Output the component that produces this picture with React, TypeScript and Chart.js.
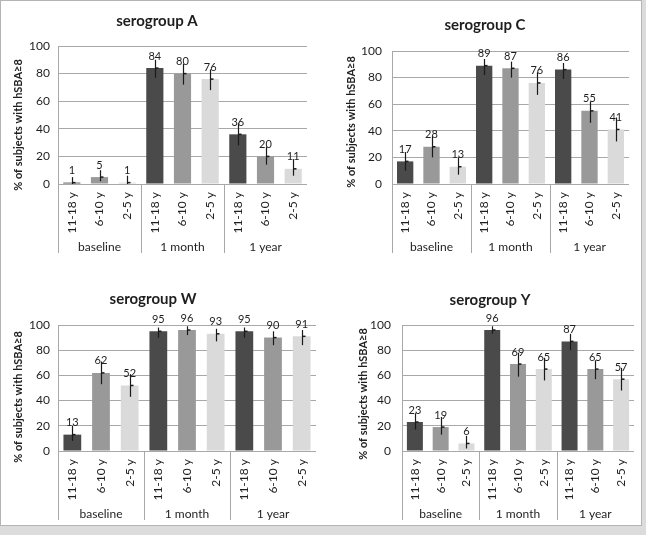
import React, { useEffect, useRef } from "react";
import { Chart, registerables } from "chart.js";

Chart.register(...registerables);

// ---------- data ----------
const ageGroups = ["11-18 y", "6-10 y", "2-5 y"];
const timepoints = ["baseline", "1 month", "1 year"];
const yTicks = [0, 20, 40, 60, 80, 100];
const yAxisTitle = "% of subjects with hSBA\u22658";

const titleA = "serogroup A";
const valuesA = [1, 5, 1, 84, 80, 76, 36, 20, 11];
const lowA = [0, 2, 0, 77, 72, 68, 28, 14, 6];
const highA = [5, 10, 6, 90, 87, 83, 44, 27, 18];

const titleC = "serogroup C";
const valuesC = [17, 28, 13, 89, 87, 76, 86, 55, 41];
const lowC = [10, 20, 7, 82, 80, 67, 79, 46, 32];
const highC = [24, 36, 20, 94, 92, 84, 91, 62, 50];

const titleW = "serogroup W";
const valuesW = [13, 62, 52, 95, 96, 93, 95, 90, 91];
const lowW = [8, 53, 43, 90, 92, 87, 90, 84, 84];
const highW = [20, 71, 61, 98, 99, 97, 98, 95, 96];

const titleY = "serogroup Y";
const valuesY = [23, 19, 6, 96, 69, 65, 87, 65, 57];
const lowY = [17, 13, 2, 93, 59, 56, 80, 57, 48];
const highY = [30, 27, 12, 99, 78, 74, 93, 72, 66];

// ---------- styling ----------
const FONT = "Lato, 'Open Sans', 'DejaVu Sans', sans-serif";
const TEXT = "#1e1e1e";
const GRID = "#a8a8a8";
const barColors = ["#4a4a4a", "#999999", "#dadada"];

const PW = 323;
const PH = 268;

type Spec = {
  title: string;
  values: number[];
  low: number[];
  high: number[];
  px: number;
  py: number;
  left: number;
  right: number;
  top: number;
  bottom: number;
  titleX: number;
  titleY: number;
  yTitleX: number;
  yTitleY: number;
  tickPad: number;
};

const specs: Spec[] = [
  { title: titleA, values: valuesA, low: lowA, high: highA, px: 0, py: 0, left: 58, right: 307, top: 46, bottom: 184, titleX: 157, titleY: 21, yTitleX: 18, yTitleY: 125, tickPad: 8 },
  { title: titleC, values: valuesC, low: lowC, high: highC, px: 323, py: 0, left: 392, right: 629, top: 51, bottom: 184, titleX: 485, titleY: 25, yTitleX: 351, yTitleY: 122, tickPad: 10 },
  { title: titleW, values: valuesW, low: lowW, high: highW, px: 0, py: 268, left: 58, right: 316, top: 325, bottom: 451, titleX: 153, titleY: 299, yTitleX: 18, yTitleY: 397, tickPad: 8 },
  { title: titleY, values: valuesY, low: lowY, high: highY, px: 323, py: 268, left: 402, right: 634, top: 325, bottom: 451, titleX: 490, titleY: 300, yTitleX: 363, yTitleY: 394, tickPad: 11 },
];

const labels = timepoints.flatMap(() => ageGroups);

function makeDecor(spec: Spec) {
  return {
    id: "decor",
    afterDatasetsDraw(chart: any) {
      const ctx = chart.ctx;
      const meta = chart.getDatasetMeta(0);
      const y = chart.scales.y;
      ctx.save();
      meta.data.forEach((bar: any, i: number) => {
        const cx = Math.round(bar.x) + 0.5;
        const yl = y.getPixelForValue(spec.low[i]);
        const yh = y.getPixelForValue(spec.high[i]);
        const yv = y.getPixelForValue(spec.values[i]);
        ctx.strokeStyle = "#1a1a1a";
        ctx.lineWidth = 1.2;
        ctx.beginPath();
        ctx.moveTo(cx, yl);
        ctx.lineTo(cx, yh);
        ctx.stroke();
        ctx.lineWidth = 1.5;
        ctx.beginPath();
        ctx.moveTo(cx, yv);
        ctx.lineTo(cx + 3, yv);
        ctx.stroke();
        // value label
        ctx.fillStyle = TEXT;
        ctx.font = `11px ${FONT}`;
        ctx.textAlign = "center";
        ctx.textBaseline = "middle";
        ctx.fillText(String(spec.values[i]), bar.x, yv - 12);
      });
      ctx.restore();
    },
    afterDraw(chart: any) {
      const ctx = chart.ctx;
      const x = chart.scales.x;
      const area = chart.chartArea;
      const ox = spec.px;
      const oy = spec.py;
      ctx.save();
      // category labels (rotated)
      ctx.fillStyle = TEXT;
      ctx.font = `12px ${FONT}`;
      labels.forEach((lab, i) => {
        const cx = x.getPixelForValue(i);
        ctx.save();
        ctx.translate(cx, area.bottom + 8);
        ctx.rotate(-Math.PI / 2);
        ctx.textAlign = "right";
        ctx.textBaseline = "middle";
        ctx.fillText(lab, 0, 0);
        ctx.restore();
      });
      // separators
      ctx.strokeStyle = GRID;
      ctx.lineWidth = 1;
      const n = labels.length;
      const step = (area.right - area.left) / n;
      for (let g = 0; g < timepoints.length; g++) {
        const xs = Math.round(area.left + g * 3 * step) + 0.5;
        ctx.beginPath();
        ctx.moveTo(xs, area.bottom);
        ctx.lineTo(xs, area.bottom + 69);
        ctx.stroke();
      }
      // group labels
      ctx.fillStyle = TEXT;
      ctx.font = `12px ${FONT}`;
      ctx.textAlign = "center";
      ctx.textBaseline = "middle";
      timepoints.forEach((t, g) => {
        const cx = area.left + (g * 3 + 1.5) * step;
        ctx.fillText(t, cx, area.bottom + 63);
      });
      // title
      ctx.font = `bold 15px ${FONT}`;
      ctx.fillText(spec.title, spec.titleX - ox, spec.titleY - oy);
      // y title
      ctx.save();
      ctx.translate(spec.yTitleX - ox, spec.yTitleY - oy);
      ctx.rotate(-Math.PI / 2);
      ctx.font = `bold 11px ${FONT}`;
      ctx.fillText(yAxisTitle, 0, 0);
      ctx.restore();
      ctx.restore();
    },
  };
}

function Panel({ spec }: { spec: Spec }) {
  const ref = useRef<HTMLCanvasElement | null>(null);
  useEffect(() => {
    const canvas = ref.current;
    if (!canvas) return;
    const chart = new Chart(canvas, {
      type: "bar",
      data: {
        labels,
        datasets: [
          {
            data: spec.values,
            backgroundColor: labels.map((_, i) => barColors[i % 3]),
            borderWidth: 0,
            barPercentage: 0.62,
            categoryPercentage: 1,
          },
        ],
      },
      options: {
        responsive: false,
        animation: false,
        events: [],
        layout: {
          padding: {
            left: 0,
            top: spec.top - spec.py,
            right: spec.px + PW - spec.right,
            bottom: spec.py + PH - spec.bottom,
          },
        },
        plugins: { legend: { display: false }, tooltip: { enabled: false }, title: { display: false } },
        scales: {
          x: { display: false },
          y: {
            min: 0,
            max: 100,
            afterFit: (s: any) => {
              s.width = spec.left - spec.px;
            },
            afterBuildTicks: (s: any) => {
              s.ticks = yTicks.map((v) => ({ value: v }));
            },
            ticks: { font: { family: FONT, size: 12 }, color: TEXT, padding: spec.tickPad },
            grid: { color: GRID, drawTicks: false, lineWidth: 1 },
            border: { display: true, color: GRID, width: 1 },
          },
        },
      } as any,
      plugins: [makeDecor(spec)],
    });
    return () => chart.destroy();
  }, [spec]);
  return (
    <canvas
      ref={ref}
      width={PW}
      height={PH}
      style={{ position: "absolute", left: spec.px, top: spec.py, width: PW, height: PH }}
    />
  );
}

export default function App() {
  return (
    <div style={{ position: "absolute", left: 0, top: 0, width: 646, height: 535, background: "#dcdcdc", overflow: "hidden" }}>
      <div
        style={{
          position: "absolute",
          left: 0,
          top: 0,
          width: 642,
          height: 526,
          background: "#ffffff",
          border: "1px solid #b4b4b4",
          boxSizing: "border-box",
        }}
      />
      {specs.map((s) => (
        <Panel key={s.title} spec={s} />
      ))}
    </div>
  );
}
